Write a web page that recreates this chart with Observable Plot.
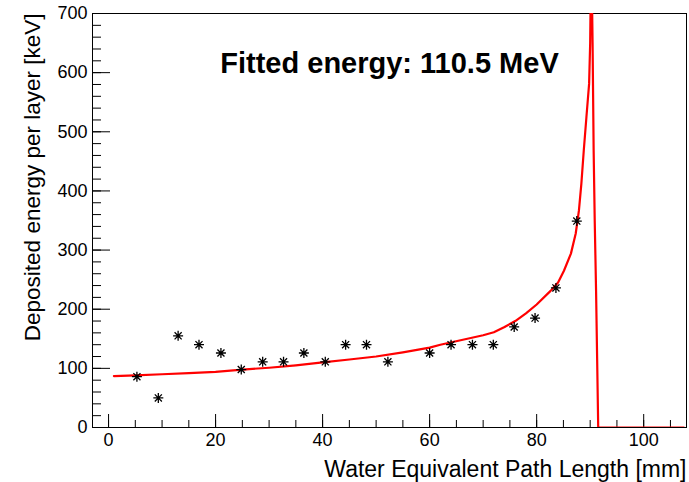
<!DOCTYPE html>
<html>
<head>
<meta charset="utf-8">
<script src="https://cdn.jsdelivr.net/npm/d3@7"></script>
<script src="https://cdn.jsdelivr.net/npm/@observablehq/plot@0.6"></script>
<style>
  html, body { margin: 0; padding: 0; background: #fff; }
</style>
</head>
<body>
<div id="chart"></div>
<script>
// Measured points (asterisks)
const pathLength = [5.3, 9.3, 13.0, 16.9, 21.0, 24.8, 28.8, 32.7, 36.5, 40.5, 44.3, 48.2, 52.2, 60.0, 64.0, 68.0, 71.9, 75.8, 79.7, 83.6, 87.5];
const depositedEnergy = [86, 50, 155, 140, 126, 98, 111, 111, 126, 111, 140, 140, 111, 126, 140, 140, 140, 170, 185, 236, 349];

// Fitted Bragg curve
const fitX = [1, 5, 10, 15, 20, 25, 30, 35, 40, 45, 50, 55, 60, 62, 66, 70, 72, 74, 76, 78, 80, 82.6, 84, 85.1, 86.4, 87.3, 87.9, 88.35, 88.8, 89.3, 89.8, 90.0, 90.2, 90.45, 90.65, 90.85, 91.1, 91.3, 91.5, 107.5];
const fitY = [87, 88, 90, 92, 94, 98, 101, 105, 110, 115, 120, 127, 135, 140, 148, 156, 161, 170, 180, 193, 208, 231, 245, 265, 294, 328, 367, 412, 468, 525, 581, 650, 820, 650, 468, 350, 232, 117, 0, 0];

// Ticks
const xMajor = [0, 20, 40, 60, 80, 100];
const xMinor = d3.range(0, 106, 5);
const yMajor = [0, 100, 200, 300, 400, 500, 600, 700];
const yMinor = d3.range(0, 701, 20);

const titleText = "Fitted energy: 110.5 MeV";
const xLabel = "Water Equivalent Path Length [mm]";
const yLabel = "Deposited energy per layer [keV]";

const points = pathLength.map((x, i) => ({x, y: depositedEnergy[i]}));
const fit = fitX.map((x, i) => ({x, y: fitY[i]}));

const asterisk = {
  draw(ctx, size) {
    const r = Math.sqrt(size / Math.PI);
    const d = r * Math.SQRT1_2;
    ctx.moveTo(-r, 0); ctx.lineTo(r, 0);
    ctx.moveTo(0, -r); ctx.lineTo(0, r);
    ctx.moveTo(-d, -d); ctx.lineTo(d, d);
    ctx.moveTo(-d, d); ctx.lineTo(d, -d);
  }
};

const font = "'Liberation Sans', Arial, Helvetica, sans-serif";

const chart = Plot.plot({
  width: 689,
  height: 482,
  marginLeft: 92,
  marginRight: 3,
  marginTop: 13,
  marginBottom: 55,
  style: {fontFamily: font, fontSize: "18px", background: "#fff", color: "#000"},
  x: {domain: [-3, 108]},
  y: {domain: [0, 700]},
  marks: [
    Plot.frame({stroke: "#000", strokeWidth: 1}),
    // inward ticks
    Plot.axisX(xMinor, {anchor: "bottom", tickSize: -7, fill: "none", label: null}),
    Plot.axisX(xMajor, {anchor: "bottom", tickSize: -13, fill: "none", label: null}),
    Plot.axisY(yMinor, {anchor: "left", tickSize: -9, fill: "none", label: null}),
    Plot.axisY(yMajor, {anchor: "left", tickSize: -18, fill: "none", label: null}),
    // tick labels
    Plot.axisX(xMajor, {anchor: "bottom", tickSize: 0, tickPadding: 6, fontSize: 18, label: null}),
    Plot.axisY(yMajor, {anchor: "left", tickSize: 0, tickPadding: 5, fontSize: 18, label: null}),
    // fit curve
    Plot.line(fit, {x: "x", y: "y", stroke: "#ff0000", strokeWidth: 2.2, clip: true}),
    // data points
    Plot.dot(points, {x: "x", y: "y", symbol: asterisk, r: 5, stroke: "#000", strokeWidth: 1.3, fill: "none"}),
    // texts
    Plot.text([titleText], {text: d => d, frameAnchor: "top", lineAnchor: "middle", dy: 50, fontSize: 29, fontWeight: "bold"}),
    Plot.text([xLabel], {text: d => d, frameAnchor: "bottom-right", textAnchor: "end", lineAnchor: "bottom", dy: 49, fontSize: 23}),
    Plot.text([yLabel], {text: d => d, frameAnchor: "top-left", textAnchor: "end", lineAnchor: "middle", rotate: -90, dx: -60, fontSize: 22.5})
  ]
});
document.getElementById("chart").appendChild(chart);
</script>
</body>
</html>
